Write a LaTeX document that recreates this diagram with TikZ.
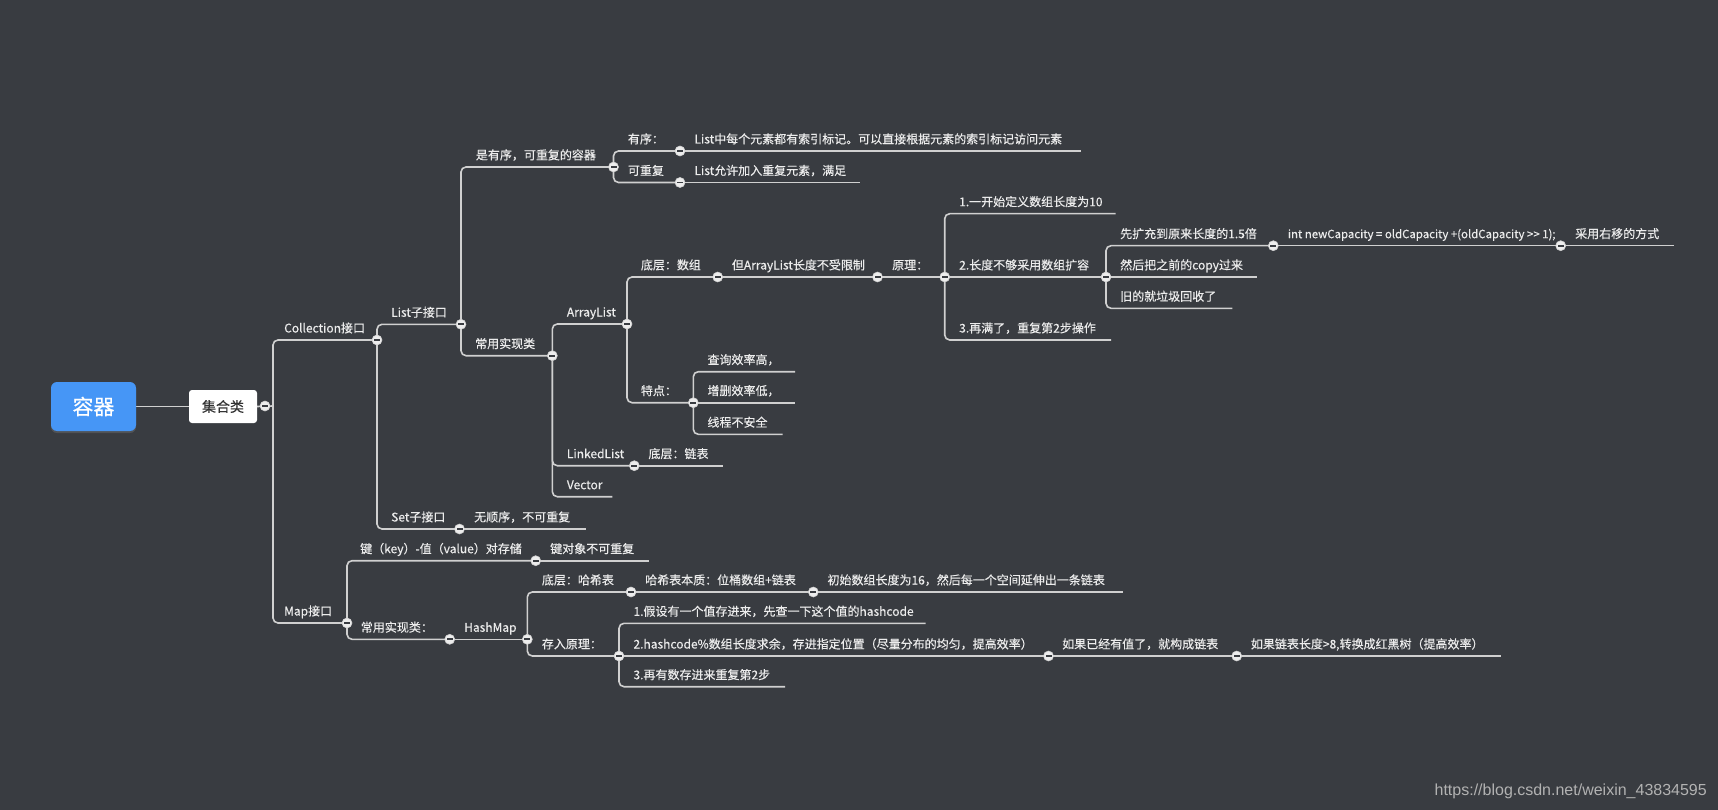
\documentclass[tikz,border=0pt]{standalone}
\usepackage{fontspec}
\usetikzlibrary{shadows}
\newfontfamily\cjk[FakeBold=0.35]{Noto Sans CJK SC}
\newfontfamily\urlfont{Liberation Sans}
\definecolor{bgcol}{RGB}{57,60,65}
\definecolor{linecol}{RGB}{208,208,208}
\definecolor{txtcol}{RGB}{236,236,236}
\definecolor{rootblue}{RGB}{70,150,246}
\pgfdeclarelayer{bg}
\pgfsetlayers{bg,main}
\tikzset{
  topic/.style={anchor=base west, inner sep=0pt, text=txtcol, font={\cjk\fontsize{12}{14}\selectfont}},
  knob/.style={circle, inner sep=0pt, minimum size=10pt, fill=white!93!black, draw=linecol, line width=0.6pt,
    path picture={\fill[bgcol] ([xshift=-3pt,yshift=-0.9pt]path picture bounding box.center) rectangle ([xshift=3pt,yshift=0.9pt]path picture bounding box.center);}},
  branch/.style={draw=linecol, line width=1.6pt, rounded corners=5pt},
  rootbox/.style={rectangle, rounded corners=6pt, fill=rootblue, text=white, minimum width=85pt, minimum height=49pt,
    font={\cjk\fontsize{21}{22}\selectfont}, drop shadow={shadow xshift=0pt, shadow yshift=-2pt, opacity=0.35}},
  subbox/.style={rectangle, rounded corners=3pt, fill=white, text=black!80, minimum width=68pt, minimum height=33pt,
    font={\cjk\fontsize{14}{16}\selectfont}},
}

\begin{document}
\begin{tikzpicture}[x=1pt, y=-1pt]
		%%%%% START %%%%%
		\useasboundingbox (0,0) rectangle (1718,810);
		
		\node[rootbox] (container) at (93.5,406.5) {容器};
		\node[subbox] (sets) at (223,406.5) {集合类};
		\node[knob] (setsK) at (265,406) {};
		\coordinate (trunk) at (273,406);
		
		%%%%% Collection %%%%%
		\node[topic] (coll) at (284,332.5) {Collection接口};
		\node[knob] (collK) at (377,340) {};
		\node[topic] (list) at (391,316.8) {List子接口};
		\node[knob] (listK) at (461,324.3) {};
		\node[topic] (set) at (391,521.5) {Set子接口};
		\node[knob] (setK) at (459.5,529) {};
		\node[topic] (settxt) at (474,521.5) {无顺序，不可重复};
		\coordinate (setE) at (586,529);
		
		\node[topic] (order) at (475.7,159.5) {是有序，可重复的容器};
		\node[knob] (orderK) at (613.5,167) {};
		\node[topic] (ord) at (627.7,143.5) {有序：};
		\node[knob] (ordK) at (680,151) {};
		\node[topic] (ordtxt) at (694.3,143.5) {List中每个元素都有索引标记。可以直接根据元素的索引标记访问元素};
		\coordinate (ordE) at (1081,151);
		\node[topic] (rep) at (627.7,175) {可重复};
		\node[knob] (repK) at (680,182.5) {};
		\node[topic] (reptxt) at (694.3,175) {List允许加入重复元素，满足};
		\coordinate (repE) at (860,182.5);
		
		\node[topic] (impl) at (475,348.2) {常用实现类};
		\node[knob] (implK) at (552.3,355.7) {};
		\node[topic] (al) at (566.7,316.5) {ArrayList};
		\node[knob] (alK) at (627,324) {};
		\node[topic] (ll) at (566.7,458.2) {LinkedList};
		\node[knob] (llK) at (634.3,465.7) {};
		\node[topic] (lltxt) at (648.3,458.2) {底层：链表};
		\coordinate (llE) at (723.3,465.7);
		\node[topic] (vec) at (566.7,489.2) {Vector};
		\coordinate (vecE) at (612.3,496.7);
		
		%%%%% ArrayList %%%%%
		\node[topic] (arr) at (640.7,269.5) {底层：数组};
		\node[knob] (arrK) at (717.7,277) {};
		\node[topic] (unlim) at (731.7,269.5) {但ArrayList长度不受限制};
		\node[knob] (unlimK) at (877.5,277) {};
		\node[topic] (prin) at (892,269.5) {原理：};
		\node[knob] (prinK) at (944.7,277) {};
		\node[topic] (init) at (959,206.2) {1.一开始定义数组长度为10};
		\coordinate (initE) at (1115.7,213.7);
		\node[topic] (grow) at (959,269.5) {2.长度不够采用数组扩容};
		\node[knob] (growK) at (1106,277) {};
		\node[topic] (again) at (959,332.5) {3.再满了，重复第2步操作};
		\coordinate (againE) at (1111,340);
		\node[topic] (half) at (1120,238.2) {先扩充到原来长度的1.5倍};
		\node[knob] (halfK) at (1273.3,245.7) {};
		\node[topic, font={\cjk\fontsize{11.4}{14}\selectfont}] (code) at (1287.7,238.2) {int newCapacity = oldCapacity +(oldCapacity >\kern0pt> 1);};
		\node[knob] (codeK) at (1560.7,245.7) {};
		\node[topic] (shift) at (1575,238.2) {采用右移的方式};
		\coordinate (shiftE) at (1674,245.7);
		\node[topic] (copy) at (1120,269.5) {然后把之前的copy过来};
		\coordinate (copyE) at (1256.7,277);
		\node[topic] (gc) at (1120,300.8) {旧的就垃圾回收了};
		\coordinate (gcE) at (1232.3,308.3);
		
		\node[topic] (feat) at (640.7,395.2) {特点：};
		\node[knob] (featK) at (693.3,402.7) {};
		\node[topic] (query) at (707.3,364.2) {查询效率高，};
		\coordinate (queryE) at (795,371.7);
		\node[topic] (edit) at (707.3,395.2) {增删效率低，};
		\coordinate (editE) at (795,402.7);
		\node[topic] (unsafe) at (707.3,426.8) {线程不安全};
		\coordinate (unsafeE) at (782.7,434.3);
		
		%%%%% Map %%%%%
		\node[topic] (map) at (284,615.5) {Map接口};
		\node[knob] (mapK) at (347,623) {};
		\node[topic] (kv) at (360,553.2) {键（key）-值（value）对存储};
		\node[knob] (kvK) at (535.7,560.7) {};
		\node[topic] (kvtxt) at (550,553.2) {键对象不可重复};
		\coordinate (kvE) at (649.3,560.7);
		\node[topic] (mimpl) at (360.7,631.8) {常用实现类：};
		\node[knob] (mimplK) at (449.7,639.3) {};
		\node[topic] (hm) at (464,631.8) {HashMap};
		\node[knob] (hmK) at (527.3,639.3) {};
		
		\node[topic] (hash) at (541.7,584.5) {底层：哈希表};
		\node[knob] (hashK) at (631,592) {};
		\node[topic] (bucket) at (645,584.5) {哈希表本质：位桶数组+链表};
		\node[knob] (bucketK) at (813.3,592) {};
		\node[topic] (init16) at (827.3,584.5) {初始数组长度为16，然后每一个空间延伸出一条链表};
		\coordinate (init16E) at (1123.3,592);
		\node[topic] (put) at (541.7,648.5) {存入原理：};
		\node[knob] (putK) at (619,656) {};
		\node[topic] (look) at (633.3,615.8) {1.假设有一个值存进来，先查一下这个值的hashcode};
		\coordinate (lookE) at (925.5,623.3);
		\node[topic] (mod) at (633.3,648.5) {2.hashcode\%数组长度求余，存进指定位置（尽量分布的均匀，提高效率）};
		\node[knob] (modK) at (1048.5,656) {};
		\node[topic] (chain) at (1062,648.5) {如果已经有值了，就构成链表};
		\node[knob] (chainK) at (1236.7,656) {};
		\node[topic] (tree) at (1250.7,648.5) {如果链表长度>8,转换成红黑树（提高效率）};
		\coordinate (treeE) at (1501,656);
		\node[topic] (redo) at (633.3,679.2) {3.再有数存进来重复第2步};
		\coordinate (redoE) at (785,686.7);
		
		\node[anchor=east, inner sep=0pt, text=black!30, font={\urlfont\fontsize{16}{18}\selectfont}] (mark) at (1707,791) {https://blog.csdn.net/weixin\_43834595};
		
		%%%%% LINES %%%%%
		\begin{pgfonlayer}{bg}
		\fill[bgcol] (0,0) rectangle (1718,810);
		\draw[branch] (container) -- (sets);
		\draw[branch] (sets.east) -- (trunk);
		\draw[branch] (trunk) |- (collK.center);
		\draw[branch] (trunk) |- (mapK.center);
		\draw[branch] (collK.center) |- (listK.center);
		\draw[branch] (collK.center) |- (setK.center);
		\draw[branch] (setK.center) -- (setE);
		\draw[branch] (listK.center) |- (orderK.center);
		\draw[branch] (listK.center) |- (implK.center);
		\draw[branch] (orderK.center) |- (ordK.center);
		\draw[branch] (ordK.center) -- (ordE);
		\draw[branch] (orderK.center) |- (repK.center);
		\draw[branch] (repK.center) -- (repE);
		\draw[branch] (implK.center) |- (alK.center);
		\draw[branch] (implK.center) |- (llK.center);
		\draw[branch] (llK.center) -- (llE);
		\draw[branch] (implK.center) |- (vecE);
		\draw[branch] (alK.center) |- (arrK.center);
		\draw[branch] (arrK.center) -- (unlimK.center) -- (prinK.center);
		\draw[branch] (prinK.center) |- (initE);
		\draw[branch] (prinK.center) -- (growK.center);
		\draw[branch] (prinK.center) |- (againE);
		\draw[branch] (growK.center) |- (halfK.center);
		\draw[branch] (halfK.center) -- (codeK.center) -- (shiftE);
		\draw[branch] (growK.center) -- (copyE);
		\draw[branch] (growK.center) |- (gcE);
		\draw[branch] (alK.center) |- (featK.center);
		\draw[branch] (featK.center) |- (queryE);
		\draw[branch] (featK.center) -- (editE);
		\draw[branch] (featK.center) |- (unsafeE);
		\draw[branch] (mapK.center) |- (kvK.center);
		\draw[branch] (kvK.center) -- (kvE);
		\draw[branch] (mapK.center) |- (mimplK.center);
		\draw[branch] (mimplK.center) -- (hmK.center);
		\draw[branch] (hmK.center) |- (hashK.center);
		\draw[branch] (hashK.center) -- (bucketK.center) -- (init16E);
		\draw[branch] (hmK.center) |- (putK.center);
		\draw[branch] (putK.center) |- (lookE);
		\draw[branch] (putK.center) -- (modK.center) -- (chainK.center) -- (treeE);
		\draw[branch] (putK.center) |- (redoE);
		\end{pgfonlayer}
		
		%%%%% END %%%%%
\end{tikzpicture}
\end{document}
